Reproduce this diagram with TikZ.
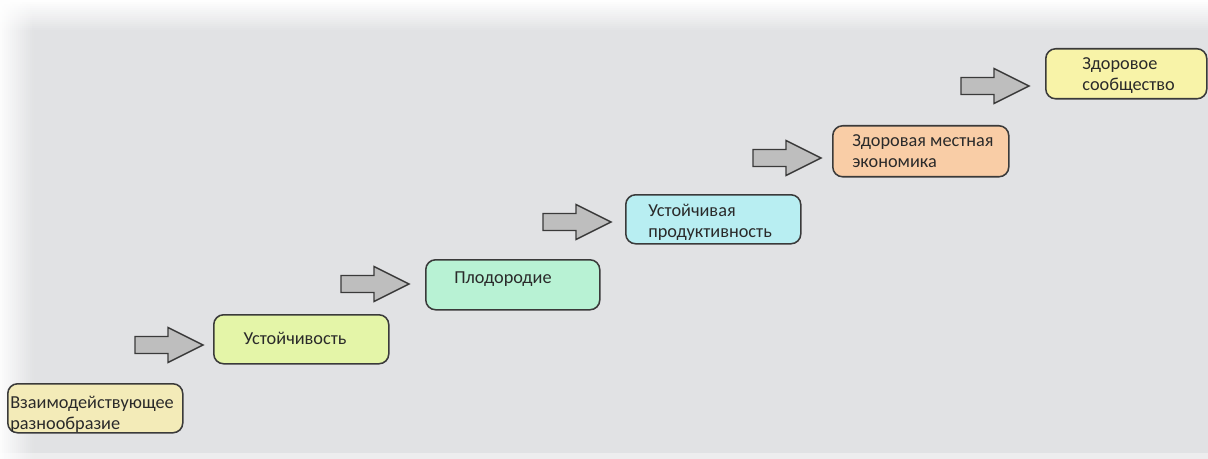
\documentclass[tikz,border=0pt]{standalone}
\usepackage{fontspec}
\setmainfont{Carlito}
\definecolor{bg}{HTML}{E1E2E4}
\definecolor{edge}{HTML}{3A3A3A}
\definecolor{txt}{HTML}{2A2A2A}
\definecolor{arrowfill}{HTML}{BEBEBE}
\definecolor{c1}{HTML}{F3EBB8}
\definecolor{c2}{HTML}{E4F5A8}
\definecolor{c3}{HTML}{B8F2D4}
\definecolor{c4}{HTML}{B8EEF2}
\definecolor{c5}{HTML}{F9CDA6}
\definecolor{c6}{HTML}{F8F3A8}
\tikzset{
  box/.style={draw=edge, line width=1.1pt, rounded corners=7pt, inner sep=0pt, anchor=north west},
  lbl/.style={text=txt, inner sep=0pt, font=\fontsize{13}{15}\selectfont, align=left},
  blk/.style={draw=edge, fill=arrowfill, line width=1pt, line join=miter}
}
\newcommand{\blockarr}[2]{%
  \path[blk] (#1,#2-8.5) -- (#1+33,#2-8.5) -- (#1+33,#2-17.5) -- (#1+68,#2)
    -- (#1+33,#2+17.5) -- (#1+33,#2+8.5) -- (#1,#2+8.5) -- cycle;}
\begin{document}
\begin{tikzpicture}[x=0.025cm,y=-0.025cm]
\useasboundingbox (0,0) rectangle (1208,459);
\fill[bg] (0,0) rectangle (1208,459);
\foreach \i [evaluate=\i as \op using 0.97-\i/16] in {0,...,15}
  {\fill[white, opacity=\op] (0,2*\i) rectangle (1208,2*\i+2);}
\foreach \i [evaluate=\i as \op using 0.9-\i/18.5] in {0,...,16}
  {\fill[white, opacity=\op] (2*\i,0) rectangle (2*\i+2,459);}
\fill[white, opacity=0.4] (0,453) rectangle (1208,459);
% boxes
\node[box, fill=c1, minimum width=175*0.025cm, minimum height=49*0.025cm] (b1) at (7,383) {};
\node[box, fill=c2, minimum width=175*0.025cm, minimum height=49*0.025cm] (b2) at (213,314) {};
\node[box, fill=c3, minimum width=174*0.025cm, minimum height=50*0.025cm] (b3) at (425,259) {};
\node[box, fill=c4, minimum width=175*0.025cm, minimum height=49*0.025cm] (b4) at (625,194) {};
\node[box, fill=c5, minimum width=176*0.025cm, minimum height=51*0.025cm] (b5) at (832,125) {};
\node[box, fill=c6, minimum width=161*0.025cm, minimum height=50*0.025cm] (b6) at (1045,48) {};
% labels
\node[lbl, anchor=north west] (t1) at (10,396) {Взаимодействующее\\разнообразие};
\node[lbl, anchor=mid] (t2) at (295,341) {Устойчивость};
\node[lbl, anchor=mid west] (t3) at (454,280) {Плодородие};
\node[lbl, anchor=north west] (t4) at (648,204) {Устойчивая\\продуктивность};
\node[lbl, anchor=north west] (t5) at (852,134) {Здоровая местная\\экономика};
\node[lbl, anchor=north west] (t6) at (1082,57) {Здоровое\\сообщество};
% arrows
\blockarr{135}{345}
\blockarr{341}{284}
\blockarr{543}{222}
\blockarr{753}{158}
\blockarr{961}{86}
\end{tikzpicture}
\end{document}
